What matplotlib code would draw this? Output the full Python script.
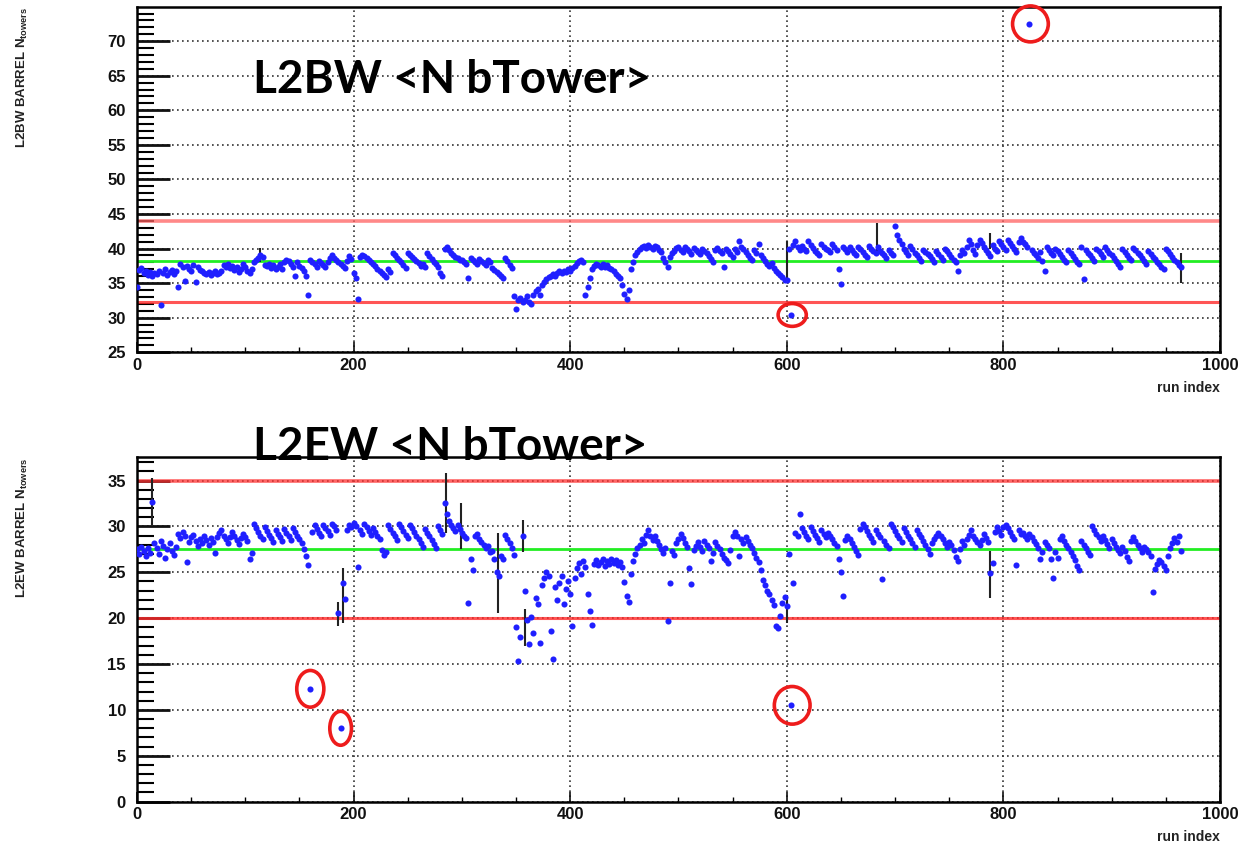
import matplotlib
matplotlib.use("Agg")
import matplotlib.pyplot as plt
from matplotlib.patches import Ellipse
from matplotlib.ticker import MultipleLocator
import numpy as np

# one value every 2nd run (run index = 2*i)
l2bw_vals = [
    34.5, 36.9, 37.2, 36.4, 36.8, 36.2, 36.6, 36.0, 36.5, 36.3,
    36.8, 31.9, 36.4, 37.0, 36.2, 36.6, 36.9, 36.3, 36.7, 34.4,
    37.7, 37.4, 35.3, 37.5, 37.0, 36.8, 37.6, 35.2, 37.3, 36.9,
    36.7, 36.5, 36.3, 36.6, 36.2, 36.4, 36.7, 36.3, 36.5, 36.8,
    37.6, 37.3, 37.8, 37.2, 37.5, 36.9, 37.4, 36.6, 37.0, 37.7,
    37.3, 36.8, 36.5, 37.1, 38.0, 38.3, 38.7, 39.0, 38.8, 37.6,
    37.5, 37.8, 37.2, 37.6, 37.0, 37.4, 37.7, 37.1, 38.0, 38.3,
    38.2, 37.8, 37.4, 36.1, 38.1, 37.5, 37.2, 36.8, 36.0, 33.3,
    38.4, 38.1, 37.7, 37.4, 38.2, 37.9, 37.6, 37.3, 38.0, 38.6,
    39.0, 38.7, 38.4, 38.1, 37.8, 37.5, 37.2, 38.2, 38.9, 38.5,
    36.4, 35.8, 32.7, 38.8, 39.1, 38.9, 38.6, 38.3, 38.0, 37.7,
    37.5, 37.1, 36.8, 36.5, 36.2, 35.9, 37.0, 36.6, 39.4, 39.0,
    38.6, 38.3, 38.0, 37.6, 37.2, 39.4, 39.1, 38.8, 38.5, 38.2,
    37.9, 37.5, 37.7, 37.3, 39.3, 38.9, 38.5, 38.1, 37.8, 37.4,
    36.5, 36.1, 40.0, 40.2, 39.8, 39.4, 39.1, 38.8, 38.6, 38.4,
    38.3, 38.0, 37.8, 35.8, 38.6, 38.3, 38.0, 37.7, 38.5, 38.2,
    37.9, 37.6, 38.3, 38.0, 37.2, 36.9, 36.6, 36.3, 36.0, 35.7,
    38.6, 38.2, 37.6, 37.2, 33.2, 31.3, 32.6, 32.9, 32.3, 32.5,
    33.1, 32.2, 32.0, 33.3, 33.8, 34.2, 33.3, 34.8, 35.2, 35.6,
    35.9, 36.1, 36.3, 36.0, 36.5, 36.7, 36.4, 36.8, 36.6, 37.0,
    36.8, 37.2, 37.5, 37.9, 38.2, 38.3, 38.0, 33.3, 34.5, 35.7,
    37.0, 37.5, 37.8, 37.6, 37.3, 37.7, 37.4, 37.6, 37.2, 37.0,
    36.8, 36.3, 36.0, 35.7, 34.8, 33.5, 32.7, 34.0, 37.0, 38.0,
    39.0, 39.5, 39.9, 40.2, 40.4, 40.1, 40.5, 40.3, 40.0, 40.4,
    40.2, 39.8, 39.5, 38.6, 38.0, 37.4, 38.8, 39.4, 39.7, 40.1,
    40.2, 39.8, 39.5, 40.3, 40.0, 39.6, 39.2, 40.1, 39.8, 39.5,
    39.2, 40.0, 39.6, 39.3, 38.9, 38.5, 38.0, 39.8, 40.1, 39.7,
    39.4, 37.4, 40.0, 39.6, 39.2, 38.8, 39.9, 39.5, 41.1, 40.3,
    39.9, 39.5, 39.1, 38.7, 38.3, 39.8, 39.4, 40.6, 39.1, 38.6,
    38.2, 37.8, 37.5, 37.9, 37.2, 36.8, 36.5, 36.2, 35.9, 35.5,
    35.4, 39.9, 30.4, 40.5, 41.1, 40.2, 39.8, 40.4, 40.0, 39.6,
    41.1, 40.5, 40.1, 39.7, 39.4, 39.0, 40.6, 40.3, 40.0, 39.8,
    39.5, 40.6, 40.2, 39.8, 37.1, 34.9, 40.3, 39.9, 39.5, 40.2,
    39.8, 39.4, 39.0, 40.3, 39.9, 39.5, 39.1, 38.8, 40.4, 40.0,
    39.6, 39.3, 40.2, 39.7, 39.4, 39.0, 38.7, 39.8, 39.3, 39.0,
    43.2, 42.0, 41.3, 40.6, 40.0, 39.5, 39.0, 40.4, 39.9, 39.4,
    39.0, 38.6, 38.2, 39.8, 39.5, 39.2, 38.9, 38.5, 38.1, 39.6,
    39.2, 38.8, 38.4, 40.0, 39.6, 39.2, 38.8, 38.4, 38.0, 36.7,
    39.0, 39.8, 39.4, 40.2, 41.3, 40.6, 39.8, 39.2, 40.5, 41.2,
    40.8, 40.3, 39.8, 39.3, 38.9, 40.5, 40.0, 39.6, 41.1, 40.6,
    40.2, 39.8, 41.3, 40.8, 40.4, 39.9, 39.5, 41.0, 41.5, 41.0,
    40.6, 40.2, 72.5, 39.8, 39.4, 39.0, 38.6, 39.5, 38.2, 36.7,
    40.2, 39.8, 39.4, 39.0, 40.0, 39.6, 39.2, 38.8, 38.4, 38.0,
    39.8, 39.3, 38.9, 38.5, 38.1, 37.7, 40.2, 35.6, 39.8, 39.4,
    39.0, 38.6, 38.2, 40.0, 39.6, 39.2, 38.8, 40.2, 39.8, 39.4,
    39.0, 38.6, 38.2, 37.8, 37.4, 39.9, 39.5, 39.1, 38.7, 38.3,
    40.1, 39.8, 39.4, 39.0, 38.6, 38.2, 37.8, 39.6, 39.2, 38.8,
    38.5, 38.1, 37.7, 37.4, 37.0, 40.0, 39.6, 39.2, 38.8, 38.4,
    38.0, 37.6, 37.3,
]

l2ew_vals = [
    27.5, 27.0, 27.8, 27.3, 26.8, 27.6, 27.1, 32.7, 28.2, 27.6,
    27.0, 28.4, 27.9, 26.6, 27.5, 28.2, 27.3, 26.9, 27.8, 29.2,
    28.7, 29.4, 28.9, 26.1, 28.3, 28.8, 29.1, 28.4, 27.9, 28.6,
    28.2, 28.9, 28.5, 28.0, 28.7, 28.3, 27.1, 28.8, 29.3, 29.6,
    29.0, 28.6, 28.2, 28.8, 29.4, 29.0, 28.5, 28.1, 28.7, 29.2,
    28.8, 28.4, 26.4, 27.1, 30.3, 29.8, 29.4, 29.0, 28.6, 29.9,
    29.5, 29.1, 28.7, 28.3, 29.6, 29.2, 28.8, 28.4, 29.7, 29.3,
    28.9, 28.5, 29.8, 29.4, 29.0, 28.6, 28.2, 27.5, 26.8, 25.8,
    12.3, 29.4, 30.1, 29.7, 29.3, 28.9, 30.2, 29.8, 29.5, 29.1,
    30.3, 30.0, 29.6, 20.6, 8.0, 23.8, 22.1, 29.6, 30.2, 29.9,
    30.4, 30.0, 25.6, 29.6, 29.2, 30.3, 29.9, 29.5, 29.1, 29.8,
    29.4, 29.0, 28.6, 27.4, 26.9, 27.2, 30.1, 29.7, 29.3, 28.9,
    28.5, 30.3, 29.9, 29.5, 29.1, 28.7, 30.2, 29.8, 29.4, 29.0,
    28.6, 28.2, 27.8, 29.7, 29.3, 28.9, 28.5, 28.1, 27.7, 30.0,
    29.6, 29.2, 32.6, 31.3, 30.6, 30.2, 29.8, 29.5, 30.1, 29.7,
    29.3, 29.0, 28.7, 21.7, 26.4, 25.3, 28.9, 29.2, 28.6, 28.3,
    28.0, 27.6, 27.9, 27.2, 27.3, 26.5, 25.0, 24.6, 26.8, 26.4,
    29.1, 28.6, 28.2, 27.7, 26.9, 19.0, 15.3, 17.9, 28.9, 23.0,
    19.8, 17.2, 20.1, 18.4, 22.2, 21.5, 17.3, 23.6, 24.4, 25.0,
    24.6, 18.6, 15.5, 23.4, 22.0, 23.8, 24.6, 21.5, 23.2, 24.0,
    22.6, 19.1, 24.4, 25.5, 26.0, 24.8, 26.2, 25.6, 22.6, 20.8,
    19.2, 25.9, 26.3, 25.8, 26.1, 26.5, 25.7, 26.2, 25.9, 26.4,
    26.0, 26.3, 25.8, 26.1, 25.6, 23.9, 22.4, 21.8, 24.8, 26.2,
    27.0, 27.6, 28.0, 28.6, 28.2, 29.1, 29.6, 29.0, 28.5, 28.9,
    28.4, 28.0, 27.5, 27.1, 27.6, 19.7, 23.8, 27.3, 26.9, 28.2,
    28.6, 29.2, 28.7, 28.2, 27.8, 25.5, 23.7, 27.4, 27.9, 28.3,
    27.8, 27.3, 28.4, 28.0, 27.6, 26.2, 27.1, 28.3, 27.9, 27.5,
    27.0, 26.6, 26.3, 26.0, 27.4, 28.9, 29.4, 28.9, 26.8, 28.6,
    28.2, 28.8, 28.4, 28.0, 27.6, 27.1, 26.6, 26.1, 25.2, 24.2,
    23.6, 23.0, 22.6, 22.0, 21.4, 19.1, 18.9, 20.2, 21.6, 22.3,
    21.3, 27.0, 10.5, 23.8, 29.3, 29.0, 31.3, 29.8, 29.4, 29.0,
    28.6, 29.9, 29.5, 29.1, 28.7, 28.3, 29.6, 29.2, 28.8, 29.3,
    29.0, 28.6, 28.2, 27.9, 26.5, 25.0, 22.4, 28.5, 29.0, 28.6,
    28.2, 27.8, 27.3, 26.9, 29.7, 30.3, 29.9, 29.5, 29.1, 28.7,
    28.3, 29.6, 29.2, 28.8, 24.3, 28.4, 28.0, 27.6, 30.3, 29.9,
    29.5, 29.1, 28.7, 28.3, 29.8, 29.4, 29.0, 28.6, 28.2, 27.8,
    29.6, 29.2, 28.8, 28.4, 28.0, 27.5, 27.0, 28.2, 28.6, 28.9,
    29.3, 29.0, 28.6, 28.2, 27.8, 28.3, 28.0, 27.4, 26.7, 26.2,
    27.5, 28.4, 28.0, 28.6, 29.1, 29.6, 29.0, 28.6, 28.3, 28.0,
    28.5, 29.2, 28.7, 28.3, 24.9, 26.0, 29.4, 29.9, 29.5, 29.1,
    29.9, 30.2, 29.8, 29.4, 29.0, 28.6, 25.8, 29.6, 29.2, 29.3,
    28.9, 28.6, 29.2, 28.8, 28.4, 28.1, 27.6, 26.4, 27.2, 28.3,
    28.0, 27.6, 26.5, 24.4, 27.2, 26.6, 28.6, 28.9, 28.4, 28.0,
    27.6, 27.2, 26.8, 26.3, 25.7, 25.2, 28.4, 28.0, 27.6, 27.2,
    26.9, 30.0, 29.6, 29.2, 28.8, 28.4, 28.9, 28.5, 28.1, 27.7,
    28.6, 28.2, 27.8, 27.4, 27.1, 27.8, 27.3, 26.7, 26.2, 28.4,
    28.8, 28.4, 28.0, 27.6, 27.2, 27.8, 27.5, 27.2, 26.8, 22.8,
    25.4, 25.9, 26.3, 26.1, 25.7, 25.2, 26.8, 27.6, 28.2, 28.7,
    28.3, 29.0, 27.3,
]

# black error bars on some runs
l2bw_err_run = [114, 600, 683, 788, 964]
l2bw_err_lo = [38.0, 35.3, 39.1, 39.9, 35.0]
l2bw_err_hi = [40.1, 41.1, 43.7, 42.3, 39.4]

l2ew_err_run = [14, 186, 190, 285, 299, 333, 356, 358, 600, 788]
l2ew_err_lo = [30.0, 19.1, 19.5, 29.3, 27.5, 20.6, 27.2, 17.0, 19.5, 22.2]
l2ew_err_hi = [35.3, 21.8, 25.5, 35.8, 32.5, 29.3, 30.7, 21.0, 22.5, 27.3]

# limit lines (low, mean, high)
l2bw_limits = [32.3, 38.2, 44.0]
l2ew_limits = [20.0, 27.5, 35.0]

# circled outliers: run, value
l2bw_circled = [(825, 72.5), (605, 30.4)]
l2ew_circled = [(160, 12.3), (188, 8.0), (605, 10.5)]

blue = "#1f1fff"
plt.rcParams["mathtext.fontset"] = "custom"
plt.rcParams["mathtext.bf"] = "Liberation Sans:bold"


def setup_axes(ax, ymin, ymax):
    ax.set_xlim(0, 1000)
    ax.set_ylim(ymin, ymax)
    ax.xaxis.set_major_locator(MultipleLocator(200))
    ax.xaxis.set_minor_locator(MultipleLocator(50))
    ax.yaxis.set_major_locator(MultipleLocator(5))
    ax.yaxis.set_minor_locator(MultipleLocator(1))
    ax.tick_params(axis="y", which="major", direction="in", length=24, width=2.0,
                   left=True, right=False, labelsize=12, pad=8, colors="#111")
    ax.tick_params(axis="y", which="minor", direction="in", length=12, width=1.5,
                   left=True, right=False)
    ax.tick_params(axis="x", which="major", direction="in", length=7, width=1.2,
                   top=False, labelsize=12, pad=4, colors="#111")
    ax.tick_params(axis="x", which="minor", direction="in", length=3.5, width=1,
                   top=False)
    for lab in ax.get_xticklabels() + ax.get_yticklabels():
        lab.set_fontweight("bold")
        lab.set_family("Liberation Sans")
    for sp in ax.spines.values():
        sp.set_linewidth(1.8)
    ax.grid(True, which="major", color="#333333", linestyle=(0, (1, 2.0)), linewidth=1.2)
    ax.set_axisbelow(True)


def draw_panel(ax, vals, err_run, err_lo, err_hi, limits, hi_color):
    runs = np.arange(len(vals)) * 2
    ax.axhline(limits[2], color=hi_color, lw=2.6, alpha=0.75, zorder=1)
    ax.axhline(limits[1], color="#22ee22", lw=2.0, zorder=1)
    ax.axhline(limits[0], color="#ff2a2a", lw=2.2, alpha=0.8, zorder=1)
    ax.vlines(err_run, err_lo, err_hi, color="#222222", lw=1.5, zorder=2)
    ax.plot(runs, vals, "o", color=blue, ms=4.4, mec="none", zorder=3)


fig = plt.figure(figsize=(12.56, 8.46), dpi=100)
fig.patch.set_facecolor("white")

# top panel
ax1 = fig.add_axes([0.1091, 0.5836, 0.8622, 0.4085])
draw_panel(ax1, l2bw_vals, l2bw_err_run, l2bw_err_lo, l2bw_err_hi, l2bw_limits, "#ff6060")
setup_axes(ax1, 25, 74.99)
for r, v in l2bw_circled:
    w = 33 if v > 50 else 26
    h = 5.2 if v > 50 else 3.3
    ax1.add_patch(Ellipse((r, v), w, h, fill=False, ec="#ee1c1c", lw=2.6, zorder=5,
                          clip_on=False))

# bottom panel
ax2 = fig.add_axes([0.1091, 0.0524, 0.8622, 0.4078])
draw_panel(ax2, l2ew_vals, l2ew_err_run, l2ew_err_lo, l2ew_err_hi, l2ew_limits, "#ff3030")
setup_axes(ax2, 0, 37.6)
ell_sizes = {160: (25, 4.0), 188: (20, 3.7), 605: (33, 4.1)}
for r, v in l2ew_circled:
    w, h = ell_sizes[r]
    ax2.add_patch(Ellipse((r, v), w, h, fill=False, ec="#ee1c1c", lw=2.6, zorder=5))

# axis titles, ROOT style
fig.text(22 / 1256, 1 - 7 / 846, r"L2BW BARREL N$_{\mathbf{towers}}$", rotation=90, ha="center",
         va="top", fontsize=9.5, fontweight="bold", family="Liberation Sans", color="#222")
fig.text(22 / 1256, 1 - 457 / 846, r"L2EW BARREL N$_{\mathbf{towers}}$", rotation=90, ha="center",
         va="top", fontsize=9.5, fontweight="bold", family="Liberation Sans", color="#222")
fig.text(1220 / 1256, 1 - 388 / 846, "run index", ha="right", va="center",
         fontsize=10, fontweight="bold", family="Liberation Sans", color="#222")
fig.text(1220 / 1256, 1 - 837 / 846, "run index", ha="right", va="center",
         fontsize=10, fontweight="bold", family="Liberation Sans", color="#222")

# slide titles
fig.text(253 / 1256, 1 - 93 / 846, "L2BW <N bTower>", ha="left", va="baseline",
         fontsize=33, fontweight="bold", family="Lato", color="black", zorder=10)
fig.text(253 / 1256, 1 - 460 / 846, "L2EW <N bTower>", ha="left", va="baseline",
         fontsize=33, fontweight="bold", family="Lato", color="black", zorder=10)

plt.savefig("out.png", dpi=100)
